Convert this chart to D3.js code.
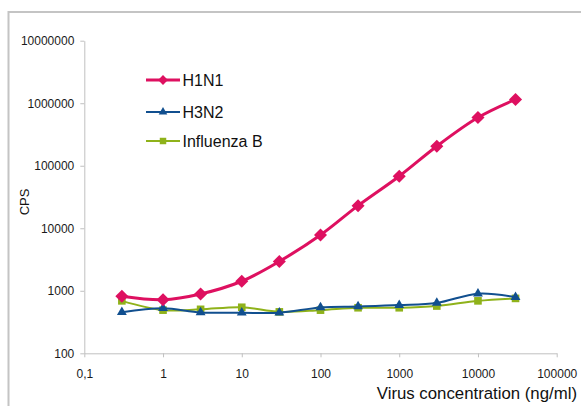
<!DOCTYPE html>
<html>
<head>
<meta charset="utf-8">
<script src="https://cdn.jsdelivr.net/npm/d3@7"></script>
<style>
html,body{margin:0;padding:0;background:#fff;}
svg{display:block;font-family:"Liberation Sans",Arial,sans-serif;}
</style>
</head>
<body>
<svg id="chart" width="581" height="406"></svg>
<script>
const concentrations = [0.3, 1, 3, 10, 30, 100, 300, 1000, 3000, 10000, 30000];
const h1n1 = [820, 720, 890, 1420, 2950, 7800, 23000, 68000, 205000, 590000, 1150000];
const h3n2 = [455, 525, 450, 445, 445, 540, 560, 590, 640, 900, 790];
const fluB = [690, 490, 505, 545, 460, 490, 535, 535, 570, 690, 755];
const seriesNames = ["H1N1", "H3N2", "Influenza B"];
const xTicks = [0.1, 1, 10, 100, 1000, 10000, 100000];
const xTickLabels = ["0,1", "1", "10", "100", "1000", "10000", "100000"];
const yTicks = [100, 1000, 10000, 100000, 1000000, 10000000];
const xTitle = "Virus concentration (ng/ml)";
const yTitle = "CPS";

const svg = d3.select("#chart");
const plotLeft = 84.3, plotRight = 556.7, plotTop = 40.7, plotBottom = 353.3;

// outer border
svg.append("rect").attr("x", 8.5).attr("y", 12).attr("width", 700).attr("height", 500)
  .attr("fill", "none").attr("stroke", "#c4c4c4").attr("stroke-width", 2);

const x = d3.scaleLog().domain([0.1, 100000]).range([plotLeft, plotRight]);
const y = d3.scaleLog().domain([100, 10000000]).range([plotBottom, plotTop]);

const yAxis = svg.append("g").attr("transform", `translate(${plotLeft},0)`)
  .call(d3.axisLeft(y).tickValues(yTicks).tickFormat(d3.format("d")).tickSize(4).tickSizeOuter(0).tickPadding(6));
const xAxis = svg.append("g").attr("transform", `translate(0,${plotBottom})`)
  .call(d3.axisBottom(x).tickValues(xTicks).tickFormat((d, i) => xTickLabels[i]).tickSize(4).tickSizeOuter(0).tickPadding(12.5));
[yAxis, xAxis].forEach(g => {
  g.select(".domain").attr("stroke", "#c0c0c0");
  g.selectAll(".tick line").attr("stroke", "#c0c0c0");
  g.selectAll(".tick text").attr("fill", "#1a1a1a").style("font-size", "12px")
    .style("font-family", "'Liberation Sans',Arial,sans-serif");
});

// titles
svg.append("text").attr("x", 577).attr("y", 398.5).attr("text-anchor", "end")
  .style("font-size", "16.8px").attr("fill", "#111").text(xTitle);
svg.append("text").attr("transform", "translate(29,202) rotate(-90)").attr("text-anchor", "middle")
  .style("font-size", "13px").attr("fill", "#111").text(yTitle);

const series = [
  {name: seriesNames[0], values: h1n1, color: "#de1060", width: 3, shape: d3.symbolSquare, rot: 45, size: 85, lsize: 48},
  {name: seriesNames[1], values: h3n2, color: "#114f8f", width: 2, shape: d3.symbolTriangle, rot: 0, size: 42, lsize: 32},
  {name: seriesNames[2], values: fluB, color: "#8fb21a", width: 2, shape: d3.symbolSquare, rot: 0, size: 58, lsize: 42}
];

const line = d3.line().x(d => x(d[0])).y(d => y(d[1])).curve(d3.curveCatmullRom.alpha(0.5));

// draw in order: Influenza B, H3N2, H1N1 on top
[series[2], series[1], series[0]].forEach(s => {
  const pts = concentrations.map((c, i) => [c, s.values[i]]);
  svg.append("path").datum(pts).attr("d", line).attr("fill", "none")
    .attr("stroke", s.color).attr("stroke-width", s.width).attr("stroke-linejoin", "round");
  svg.append("g").selectAll("path").data(pts).join("path")
    .attr("transform", d => `translate(${x(d[0])},${y(d[1])}) rotate(${s.rot})`)
    .attr("d", d3.symbol().type(s.shape).size(s.size)())
    .attr("fill", s.color);
});

// legend
const legY = [80, 112, 141];
series.forEach((s, i) => {
  const g = svg.append("g").attr("transform", `translate(0,${legY[i]})`);
  g.append("line").attr("x1", 146).attr("x2", 180).attr("y1", 0).attr("y2", 0)
    .attr("stroke", s.color).attr("stroke-width", s.width);
  g.append("path").attr("transform", `translate(163,0) rotate(${s.rot})`)
    .attr("d", d3.symbol().type(s.shape).size(s.lsize)()).attr("fill", s.color);
  g.append("text").attr("x", 182.5).attr("y", 6).style("font-size", "16px").attr("fill", "#111").text(s.name);
});
</script>
</body>
</html>
